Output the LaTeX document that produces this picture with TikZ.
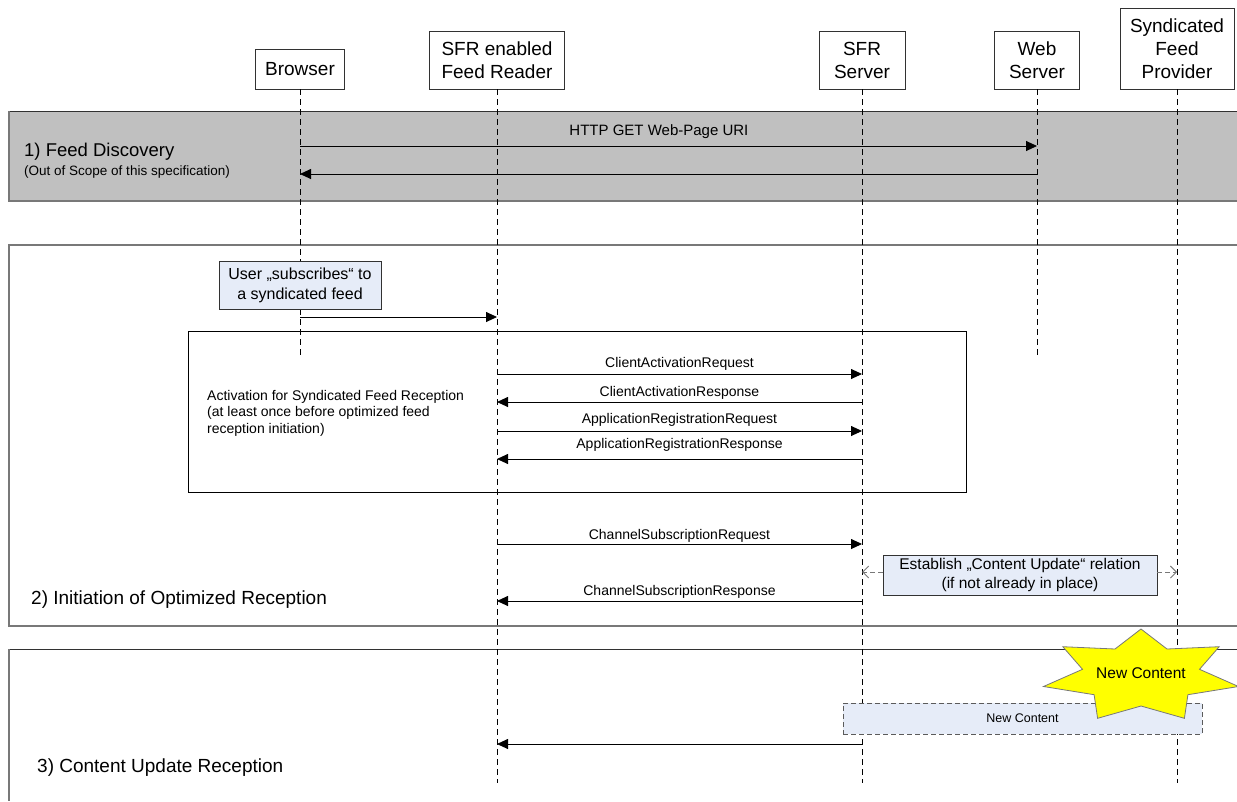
\documentclass[tikz,border=0pt]{standalone}
\usepackage{fontspec}
\setmainfont{Liberation Sans}
\usetikzlibrary{arrows.meta}
\definecolor{bandgray}{RGB}{192,192,192}
\definecolor{lightblue}{RGB}{230,236,248}
\definecolor{edgegray}{RGB}{120,120,120}
\definecolor{darkedge}{RGB}{50,50,50}
\definecolor{staryellow}{RGB}{255,255,0}
\newcommand{\fsz}[2]{\fontsize{#1pt}{#2pt}\selectfont}
\begin{document}
\begin{tikzpicture}[x=1pt,y=-1pt,
  actor/.style={draw=darkedge, fill=white, line width=0.8pt, inner sep=0pt, align=center, font=\fsz{19}{23}},
  life/.style={draw=black, dash pattern=on 6pt off 4pt, line width=0.8pt},
  msg/.style={draw=black, line width=0.9pt, -{Triangle[length=11pt,width=10pt]}},
  lbl/.style={font=\fsz{14}{16}, inner sep=0pt},
  notebox/.style={draw=darkedge, fill=lightblue, line width=0.8pt, align=center, inner sep=0pt},
  secttl/.style={font=\fsz{19}{22}, inner sep=0pt, anchor=west},
  relarrow/.style={draw=edgegray, dash pattern=on 5pt off 3pt, line width=0.9pt, -{Straight Barb[length=6pt,width=12pt]}}
]
\useasboundingbox (0,0) rectangle (1237,801);
\fill[white] (0,0) rectangle (1237,801);

% section 1 band
\fill[bandgray] (9,111) rectangle (1237,201);
\draw[darkedge, line width=1pt] (1237,111) -- (9,111);
\draw[edgegray, line width=1.4pt] (9,111) -- (9,201) -- (1237,201);
% section 2 frame
\draw[edgegray, line width=1.4pt] (1237,245) -- (9,245) -- (9,626) -- (1237,626);
% section 3 frame
\draw[darkedge, line width=1pt] (1237,649) -- (9,649);
\draw[edgegray, line width=1.4pt] (9,649) -- (9,801);

% activation frame
\draw[black, line width=0.9pt] (188,331) rectangle (966,492);
\node[lbl, anchor=north west, align=left, font=\fsz{14}{16.5}] (act) at (207,390)
  {Activation for Syndicated Feed Reception\\(at least once before optimized feed\\reception initiation)};

% section titles
\node[secttl, font=\fsz{18.5}{22}] (s1) at (24,152) {1) Feed Discovery};
\node[secttl, font=\fsz{13.5}{16}] (s1b) at (24,172) {(Out of Scope of this specification)};
\node[secttl] (s2) at (31,600) {2) Initiation of Optimized Reception};
\node[secttl] (s3) at (37,768) {3) Content Update Reception};

% actors
\node[actor, minimum width=89pt, minimum height=40pt] (br) at (300,69) {Browser};
\node[actor, minimum width=135pt, minimum height=58pt] (fr) at (497,60) {SFR enabled\\Feed Reader};
\node[actor, minimum width=86pt, minimum height=58pt] (ss) at (862,60) {SFR\\Server};
\node[actor, minimum width=85pt, minimum height=58pt] (ws) at (1037,60) {Web\\Server};
\node[actor, minimum width=114pt, minimum height=81pt] (fp) at (1177,48.5) {Syndicated\\Feed\\Provider};

% lifelines
\coordinate (brE) at (300,357);
\coordinate (wsE) at (1037,357);
\coordinate (frE) at (497,783);
\coordinate (ssE) at (862,783);
\coordinate (fpE) at (1177,783);
\draw[life] (br.south) -- (brE);
\draw[life] (fr.south) -- (frE);
\draw[life] (ss.south) -- (ssE);
\draw[life] (ws.south) -- (wsE);
\draw[life] (fp.south) -- (fpE);

% section 1 messages
\draw[msg] (br.south |- 0,146) -- node[lbl, font=\fsz{15}{17}, pos=0.487, above=6.5pt] {HTTP GET Web-Page URI} (ws.south |- 0,146);
\draw[msg] (ws.south |- 0,174) -- (br.south |- 0,174);

% user subscribes
\node[notebox, minimum width=162pt, minimum height=48pt, font=\fsz{16}{20}] (usr) at (300,285) {User „subscribes“ to\\a syndicated feed};
\draw[msg] (br.south |- 0,317) -- (fr.south |- 0,317);

% activation messages
\draw[msg] (fr.south |- 0,374) -- node[lbl, above=3pt] {ClientActivationRequest} (ss.south |- 0,374);
\draw[msg] (ss.south |- 0,402) -- node[lbl, above=2pt] {ClientActivationResponse} (fr.south |- 0,402);
\draw[msg] (fr.south |- 0,431) -- node[lbl, above=4pt] {ApplicationRegistrationRequest} (ss.south |- 0,431);
\draw[msg] (ss.south |- 0,459) -- node[lbl, above=7pt] {ApplicationRegistrationResponse} (fr.south |- 0,459);

% channel subscription
\draw[msg] (fr.south |- 0,544) -- node[lbl, above=1.5pt] {ChannelSubscriptionRequest} (ss.south |- 0,544);
\draw[msg] (ss.south |- 0,601) -- node[lbl, above=2pt] {ChannelSubscriptionResponse} (fr.south |- 0,601);

% establish relation
\node[notebox, minimum width=274pt, minimum height=40pt, font=\fsz{15.5}{19}] (est) at (1020,575) {Establish „Content Update“ relation\\(if not already in place)};
\draw[relarrow] (est.west |- 0,572) -- (ss.south |- 0,572);
\draw[relarrow] (est.east |- 0,572) -- (fp.south |- 0,572);

% new content
\node[notebox, draw=darkedge!80, dash pattern=on 5pt off 3pt, line width=1pt, minimum width=359pt, minimum height=31pt, font=\fsz{12.5}{15}] (nc) at (1022.5,718.5) {New Content};
\draw[msg] (ss.south |- 0,744) -- (fr.south |- 0,744);

% star
\filldraw[fill=staryellow, draw=edgegray, line width=0.8pt]
  (1141,629) -- (1167.0,649.0) -- (1219.2,646.7) -- (1199.5,669.3) -- (1238.5,686.5)
  -- (1187.9,694.7) -- (1184.4,718.3) -- (1141,706) -- (1097.6,718.3) -- (1094.1,694.7)
  -- (1043.5,686.5) -- (1082.5,669.3) -- (1062.8,646.7) -- (1115.0,649.0) -- cycle;
\node[inner sep=0pt, font=\fsz{15.5}{18}] (star) at (1141,673) {New Content};
\end{tikzpicture}
\end{document}
